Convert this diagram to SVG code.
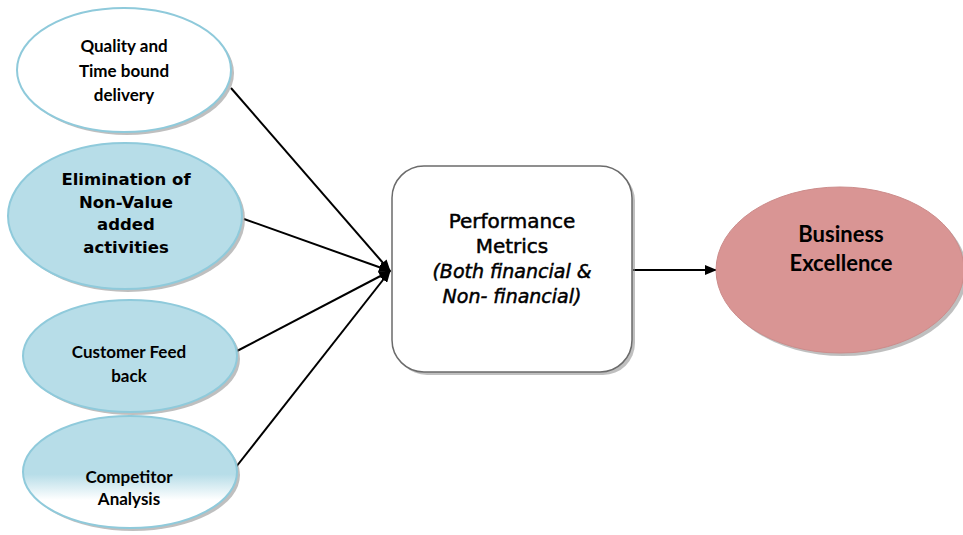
<svg xmlns="http://www.w3.org/2000/svg" width="963" height="535" viewBox="0 0 963 535">
<defs>
<style>
.oval{stroke:#8fcadb;stroke-width:2}
.shadow{fill:#8a8a8a;opacity:0.55}
.lt{font-family:Lato,"Liberation Sans",sans-serif;font-weight:bold;font-size:17px;fill:#000;text-anchor:middle}
.tah{font-family:"DejaVu Sans",sans-serif;fill:#000;text-anchor:middle}
.conn{stroke:#000;stroke-width:2;fill:none;marker-end:url(#ah)}
</style>
<marker id="ah" viewBox="0 0 12 10" refX="11" refY="5" markerWidth="12" markerHeight="10" orient="auto" markerUnits="userSpaceOnUse">
<path d="M0,0 L12,5 L0,10 Z" fill="#000"/>
</marker>
<linearGradient id="g4" x1="0" y1="0" x2="0" y2="1">
<stop offset="0" stop-color="#b7dde8"/>
<stop offset="0.52" stop-color="#b7dde8"/>
<stop offset="0.75" stop-color="#ffffff"/>
<stop offset="1" stop-color="#ffffff"/>
</linearGradient>
</defs>
<rect width="963" height="535" fill="#fff"/>
<g id="connectors">
<line class="conn" x1="231" y1="88" x2="390" y2="271"/>
<line class="conn" x1="244" y1="219" x2="390" y2="271"/>
<line class="conn" x1="237" y1="351" x2="390" y2="271"/>
<line class="conn" x1="236" y1="467" x2="390" y2="271"/>
<line class="conn" x1="633" y1="270" x2="716" y2="270"/>
</g>
<g id="n1">
<ellipse class="shadow" cx="127" cy="73" rx="107" ry="62"/>
<ellipse class="oval" cx="124" cy="70" rx="107" ry="62" fill="#fff"/>
<text class="lt" x="124" y="52">Quality and</text>
<text class="lt" x="124" y="77">Time bound</text>
<text class="lt" x="124" y="101">delivery</text>
</g>
<g id="n2">
<ellipse class="shadow" cx="128" cy="219" rx="117" ry="73"/>
<ellipse class="oval" cx="125" cy="216" rx="117" ry="73" fill="#b7dde8"/>
<text class="tah" font-weight="bold" font-size="16.5" x="126" y="185">Elimination of</text>
<text class="tah" font-weight="bold" font-size="16.5" x="126" y="208">Non-Value</text>
<text class="tah" font-weight="bold" font-size="16.5" x="126" y="230">added</text>
<text class="tah" font-weight="bold" font-size="16.5" x="126" y="253">activities</text>
</g>
<g id="n3">
<ellipse class="shadow" cx="133" cy="359" rx="107" ry="56"/>
<ellipse class="oval" cx="130" cy="356" rx="107" ry="56" fill="#b7dde8"/>
<text class="lt" x="129" y="358">Customer Feed</text>
<text class="lt" x="129" y="382">back</text>
</g>
<g id="n4">
<ellipse class="shadow" cx="133" cy="475" rx="107" ry="56"/>
<ellipse class="oval" cx="130" cy="472" rx="107" ry="56" fill="url(#g4)"/>
<text class="lt" x="129" y="483">Competitor</text>
<text class="lt" x="129" y="505">Analysis</text>
</g>
<g id="n5">
<rect x="395" y="169" width="240" height="206" rx="32" fill="#8a8a8a" opacity="0.55"/>
<rect x="392" y="166" width="240" height="206" rx="32" fill="#fff" stroke="#6b6b6b" stroke-width="1.5"/>
<g stroke="#000" stroke-width="0.5">
<text class="tah" font-size="20" x="512" y="228">Performance</text>
<text class="tah" font-size="20" x="512" y="253">Metrics</text>
<text class="tah" font-size="19" font-style="italic" x="512" y="278">(Both financial &amp;</text>
<text class="tah" font-size="19" font-style="italic" x="512" y="303">Non- financial)</text>
</g>
</g>
<g id="n6">
<ellipse class="shadow" cx="843" cy="273" rx="124" ry="83"/>
<ellipse cx="840" cy="270" rx="124" ry="83" fill="#d99594" stroke="#cc8c8b" stroke-width="1"/>
<text font-family="Lato,'Liberation Sans',sans-serif" font-weight="bold" font-size="22" text-anchor="middle" x="841" y="242">Business</text>
<text font-family="Lato,'Liberation Sans',sans-serif" font-weight="bold" font-size="22" text-anchor="middle" x="841" y="271">Excellence</text>
</g>
</svg>
